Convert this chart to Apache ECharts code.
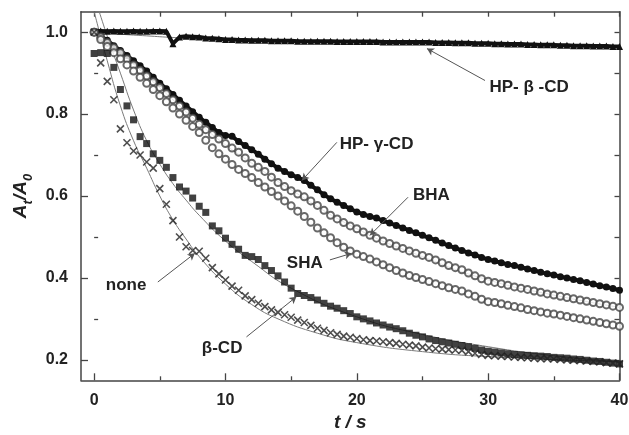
<!DOCTYPE html>
<html><head><meta charset="utf-8">
<script src="https://cdn.jsdelivr.net/npm/echarts@6/dist/echarts.min.js"></script>
<style>html,body{margin:0;padding:0;background:#fff}#c{width:629px;height:435px}</style>
</head><body><div id="c"></div>
<script>
// ---- data ----
const t = [0,0.5,1,1.5,2,2.5,3,3.5,4,4.5,
  5,5.5,6,6.5,7,7.5,8,8.5,9,9.5,
  10,10.5,11,11.5,12,12.5,13,13.5,14,14.5,
  15,15.5,16,16.5,17,17.5,18,18.5,19,19.5,
  20,20.5,21,21.5,22,22.5,23,23.5,24,24.5,
  25,25.5,26,26.5,27,27.5,28,28.5,29,29.5,
  30,30.5,31,31.5,32,32.5,33,33.5,34,34.5,
  35,35.5,36,36.5,37,37.5,38,38.5,39,39.5,40];
const hpBeta = [1.002,1.003,1.002,1.003,1.002,1.002,1.003,1.002,1.002,1.003,
  1.003,1.002,0.972,0.988,0.99,0.989,0.988,0.986,0.985,0.984,
  0.982,0.982,0.981,0.981,0.98,0.98,0.98,0.979,0.979,0.979,
  0.979,0.978,0.978,0.978,0.978,0.978,0.978,0.977,0.977,0.977,
  0.977,0.977,0.977,0.977,0.976,0.976,0.976,0.976,0.976,0.976,
  0.976,0.976,0.975,0.975,0.975,0.974,0.974,0.974,0.973,0.973,
  0.973,0.972,0.972,0.971,0.971,0.971,0.97,0.97,0.969,0.969,
  0.969,0.968,0.968,0.967,0.967,0.967,0.966,0.966,0.966,0.965,0.965];
const hpGamma = [1.0,0.99,0.98,0.967,0.955,0.943,0.93,0.918,0.905,0.89,
  0.875,0.862,0.848,0.834,0.82,0.806,0.792,0.78,0.767,0.755,
  0.748,0.746,0.733,0.723,0.713,0.702,0.69,0.679,0.668,0.66,
  0.652,0.645,0.638,0.626,0.615,0.603,0.593,0.585,0.577,0.569,
  0.561,0.555,0.55,0.546,0.54,0.534,0.528,0.522,0.516,0.51,
  0.504,0.498,0.492,0.485,0.479,0.473,0.467,0.461,0.456,0.45,
  0.445,0.441,0.437,0.433,0.43,0.426,0.422,0.418,0.414,0.41,
  0.407,0.403,0.4,0.396,0.393,0.389,0.385,0.381,0.378,0.374,0.37];
const bha = [1.0,0.988,0.975,0.962,0.95,0.935,0.92,0.907,0.893,0.879,
  0.865,0.85,0.835,0.82,0.805,0.79,0.775,0.762,0.75,0.739,
  0.728,0.717,0.707,0.693,0.68,0.67,0.66,0.646,0.633,0.623,
  0.613,0.605,0.598,0.588,0.577,0.565,0.553,0.544,0.535,0.527,
  0.52,0.512,0.504,0.497,0.49,0.484,0.478,0.472,0.466,0.46,
  0.455,0.45,0.444,0.437,0.43,0.425,0.42,0.412,0.405,0.398,
  0.392,0.389,0.386,0.382,0.378,0.375,0.372,0.368,0.365,0.361,
  0.358,0.355,0.352,0.349,0.346,0.343,0.34,0.337,0.334,0.331,0.328];
const sha = [1.0,0.982,0.965,0.95,0.935,0.92,0.905,0.89,0.875,0.86,
  0.845,0.83,0.815,0.8,0.785,0.77,0.755,0.736,0.718,0.703,
  0.69,0.677,0.665,0.655,0.645,0.633,0.622,0.611,0.6,0.588,
  0.576,0.563,0.55,0.536,0.522,0.51,0.498,0.486,0.475,0.466,
  0.458,0.452,0.446,0.439,0.432,0.425,0.418,0.412,0.406,0.401,
  0.396,0.391,0.386,0.381,0.376,0.372,0.368,0.361,0.355,0.348,
  0.342,0.34,0.337,0.333,0.33,0.327,0.323,0.32,0.317,0.314,
  0.312,0.309,0.306,0.303,0.3,0.297,0.294,0.291,0.288,0.285,0.282];
const betaCD = [0.948,0.95,0.948,0.914,0.86,0.82,0.786,0.745,0.728,0.703,
  0.687,0.67,0.645,0.622,0.612,0.595,0.575,0.56,0.527,0.515,
  0.497,0.482,0.47,0.455,0.452,0.445,0.43,0.418,0.405,0.39,
  0.375,0.362,0.357,0.352,0.346,0.338,0.331,0.326,0.32,0.313,
  0.305,0.3,0.295,0.29,0.285,0.28,0.276,0.271,0.265,0.26,
  0.256,0.251,0.247,0.244,0.241,0.238,0.235,0.232,0.228,0.224,
  0.221,0.219,0.217,0.215,0.213,0.212,0.211,0.21,0.209,0.208,
  0.206,0.205,0.204,0.202,0.201,0.199,0.197,0.196,0.194,0.192,0.19];
const none = [1.0,0.925,0.88,0.835,0.764,0.73,0.71,0.7,0.683,0.668,
  0.618,0.58,0.54,0.5,0.476,0.467,0.465,0.448,0.425,0.41,
  0.395,0.38,0.37,0.356,0.347,0.338,0.33,0.322,0.316,0.31,
  0.304,0.297,0.291,0.284,0.277,0.272,0.266,0.262,0.258,0.255,
  0.252,0.249,0.247,0.246,0.244,0.242,0.24,0.238,0.236,0.234,
  0.231,0.229,0.227,0.226,0.225,0.224,0.223,0.22,0.216,0.213,
  0.211,0.21,0.209,0.208,0.207,0.206,0.205,0.204,0.203,0.203,
  0.202,0.201,0.2,0.199,0.198,0.197,0.196,0.195,0.193,0.192,0.19];
// fitted curves (thin grey lines)
const fitNoneT = [0,1,2,3,4,5,6,7,8,10,12,14,17,20,25,30,40];
const fitNone  = [1.05,0.93,0.82,0.735,0.668,0.6,0.542,0.495,0.452,0.385,0.335,0.3,0.265,0.242,0.22,0.208,0.195];
const fitBetaT = [0,1,2,3,4,5,6,7,8,10,12,15,20,25,30,35,40];
const fitBeta  = [1.09,0.99,0.9,0.81,0.735,0.678,0.63,0.59,0.553,0.49,0.44,0.375,0.305,0.262,0.232,0.21,0.195];
const fitMidT  = [0,2,4,6,8,10,12,15,20,25,30,35,40];
const fitMid   = [1.0,0.95,0.893,0.835,0.777,0.725,0.68,0.615,0.52,0.452,0.395,0.358,0.328];
const fitHPT   = [0,2,4,6,8,12,16,20,26,32,40];
const fitHP    = [1.0,0.995,0.991,0.987,0.984,0.98,0.978,0.977,0.975,0.971,0.965];
// ticks
const xMajor = [0,10,20,30,40];
const xMinor = [5,15,25,35];
const xAll   = [0,5,10,15,20,25,30,35,40];
const yMajor = [0.2,0.4,0.6,0.8,1.0];
const yMinor = [0.3,0.5,0.7,0.9];
const yAll   = [0.2,0.3,0.4,0.5,0.6,0.7,0.8,0.9,1.0];

// ---- chart ----
const FONT = "'Liberation Sans', Arial, Helvetica, sans-serif";
const pairs = (xs, ys) => xs.map((x, i) => [x, ys[i]]);
const chart = echarts.init(document.getElementById('c'), null, {renderer: 'canvas'});
const axisLine = {show: true, onZero: false, lineStyle: {color: '#444', width: 1.5}};
const X = {min: -1, max: 40, type: 'value', splitLine: {show: false}};
const Y = {min: 0.15, max: 1.05, type: 'value', splitLine: {show: false}};

const notes = [
  {text: 'HP- \u03b2 -CD', at: [30.1, 0.865], from: [29.76, 0.882], to: [25.34, 0.960]},
  {text: 'HP- \u03b3-CD',  at: [18.7, 0.726], from: [18.48, 0.731], to: [15.82, 0.638]},
  {text: 'BHA',            at: [24.27, 0.602], from: [23.9, 0.597], to: [21.0, 0.504]},
  {text: 'SHA',            at: [14.67, 0.435], from: [17.95, 0.444], to: [19.6, 0.46]},
  {text: 'none',           at: [0.89, 0.382], from: [4.85, 0.39], to: [7.67, 0.46]},
  {text: '\u03b2-CD',      at: [8.2, 0.228], from: [11.6, 0.256], to: [15.4, 0.354]}
];

const fit = (xs, ys, extra) => Object.assign({
  type: 'line', data: pairs(xs, ys), smooth: true, showSymbol: false, symbol: 'none',
  lineStyle: {color: '#7a7a7a', width: 1}, z: 1, silent: true, clip: true
}, extra || {});

const option = {
  animation: false,
  backgroundColor: '#fff',
  grid: {left: 81, right: 9.5, top: 11.7, bottom: 54.7, containLabel: false, outerBoundsMode: 'none'},
  xAxis: [
    Object.assign({}, X, {position: 'bottom', axisLine,
      axisTick: {show: true, inside: true, length: 7, lineStyle: {color: '#444', width: 1.3}, customValues: xMajor},
      axisLabel: {show: true, customValues: xMajor, margin: 12, color: '#222', fontSize: 16, fontWeight: 'bold', fontFamily: FONT},
      name: 't / s', nameLocation: 'middle', nameGap: 31,
      nameTextStyle: {fontSize: 19, fontWeight: 'bold', fontStyle: 'italic', color: '#222', fontFamily: FONT}}),
    Object.assign({}, X, {position: 'bottom', axisLine: {show: false},
      axisTick: {show: true, inside: true, length: 4, lineStyle: {color: '#444', width: 1.3}, customValues: xMinor},
      axisLabel: {show: false}}),
    Object.assign({}, X, {position: 'top', axisLine,
      axisTick: {show: true, inside: true, length: 5, lineStyle: {color: '#444', width: 1.3}, customValues: xAll},
      axisLabel: {show: false}})
  ],
  yAxis: [
    Object.assign({}, Y, {position: 'left', axisLine,
      axisTick: {show: true, inside: true, length: 7, lineStyle: {color: '#444', width: 1.3}, customValues: yMajor},
      axisLabel: {show: true, customValues: yMajor, margin: 13, color: '#222', fontSize: 16, fontWeight: 'bold', fontFamily: FONT,
        formatter: v => v.toFixed(1)},
      name: '{i|A}{s|t}{i|/A}{z|0}', nameLocation: 'middle', nameGap: 44, nameRotate: 90,
      nameTextStyle: {color: '#222', fontFamily: FONT,
        rich: {
          i: {fontSize: 19, fontWeight: 'bold', fontStyle: 'italic', color: '#222', fontFamily: FONT, lineHeight: 24, verticalAlign: 'bottom'},
          s: {fontSize: 13, fontWeight: 'bold', fontStyle: 'italic', color: '#222', fontFamily: FONT, lineHeight: 24, verticalAlign: 'bottom', padding: [0, 0, -5, 0]},
          z: {fontSize: 13, fontWeight: 'bold', fontStyle: 'italic', color: '#222', fontFamily: FONT, lineHeight: 24, verticalAlign: 'bottom', padding: [0, 0, -5, 0]}
        }}}),
    Object.assign({}, Y, {position: 'left', axisLine: {show: false},
      axisTick: {show: true, inside: true, length: 4, lineStyle: {color: '#444', width: 1.3}, customValues: yMinor},
      axisLabel: {show: false}}),
    Object.assign({}, Y, {position: 'right', axisLine,
      axisTick: {show: true, inside: true, length: 5, lineStyle: {color: '#444', width: 1.3}, customValues: yAll},
      axisLabel: {show: false}})
  ],
  series: [
    fit(fitHPT, fitHP, {
      markLine: {
        silent: true, symbol: ['none', 'arrow'], symbolSize: [6, 7], animation: false,
        lineStyle: {color: '#555', width: 1, type: 'solid'}, label: {show: false},
        data: notes.map(n => [{coord: n.from}, {coord: n.to}])
      }
    }),
    fit(fitMidT, fitMid),
    fit(fitBetaT, fitBeta),
    fit(fitNoneT, fitNone),
    {name: 'HP-β-CD', type: 'line', data: pairs(t, hpBeta), symbol: 'triangle', symbolSize: 7, showSymbol: true,
      lineStyle: {color: '#111', width: 4}, itemStyle: {color: '#111'}, z: 3},
    {name: 'HP-γ-CD', type: 'line', data: pairs(t, hpGamma), symbol: 'circle', symbolSize: 7, showSymbol: true,
      lineStyle: {color: '#111', width: 4}, itemStyle: {color: '#111'}, z: 3},
    {name: 'BHA', type: 'scatter', data: pairs(t, bha), symbol: 'emptyCircle', symbolSize: 7,
      itemStyle: {color: '#444', borderWidth: 1.5}, z: 3},
    {name: 'SHA', type: 'scatter', data: pairs(t, sha), symbol: 'emptyCircle', symbolSize: 7,
      itemStyle: {color: '#444', borderWidth: 1.5}, z: 3},
    {name: 'β-CD', type: 'scatter', data: pairs(t, betaCD), symbol: 'rect', symbolSize: 7,
      itemStyle: {color: '#111'}, z: 3},
    {name: 'none', type: 'scatter', data: pairs(t, none), symbol: 'path://M0,0L10,10M10,0L0,10', symbolSize: 7,
      itemStyle: {color: 'rgba(0,0,0,0)', borderColor: '#222', borderWidth: 1.6}, z: 3}
  ]
};
chart.setOption(option);

// annotation texts placed through the axes' own scales
const texts = notes.map(n => {
  const p = chart.convertToPixel({xAxisIndex: 0, yAxisIndex: 0}, n.at);
  return {type: 'text', x: p[0], y: p[1], z: 10, silent: true,
    style: {text: n.text, fill: '#222', font: "bold 17px " + FONT, textAlign: 'left', textVerticalAlign: 'middle'}};
});
chart.setOption({graphic: texts});
</script>
</body></html>
